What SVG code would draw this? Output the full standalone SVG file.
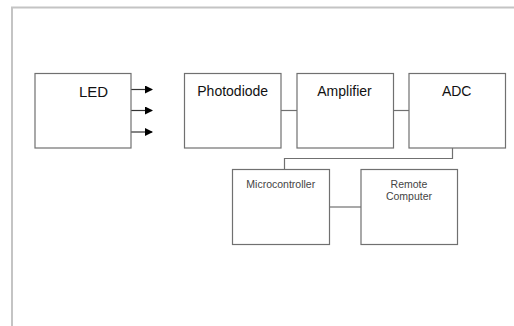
<svg xmlns="http://www.w3.org/2000/svg" width="514" height="326" viewBox="0 0 514 326">
<defs>
<style>
.box{fill:#fff;stroke:#707070;stroke-width:1.2}
.ln{fill:none;stroke:#707070;stroke-width:1.2}
.ar{fill:none;stroke:#333;stroke-width:1.2}
.t{font-family:"Liberation Sans",Arial,sans-serif;fill:#111;text-anchor:middle}
.s{font-family:"Liberation Sans",Arial,sans-serif;fill:#444;text-anchor:middle;font-size:10.5px}
</style>
<marker id="ah" markerWidth="8" markerHeight="8" refX="7" refY="4" orient="auto" markerUnits="userSpaceOnUse">
<path d="M0,0 L8,4 L0,8 Z" fill="#000"/>
</marker>
</defs>
<rect width="514" height="326" fill="#fff"/>
<path d="M12,326 V7.5 H514" fill="none" stroke="#c4c4c4" stroke-width="2"/>
<g id="connectors">
<line class="ar" x1="131" y1="89.5" x2="152" y2="89.5" marker-end="url(#ah)"/>
<line class="ar" x1="131" y1="110.5" x2="152" y2="110.5" marker-end="url(#ah)"/>
<line class="ar" x1="131" y1="132" x2="152" y2="132" marker-end="url(#ah)"/>
<line class="ln" x1="281" y1="110.5" x2="297" y2="110.5"/>
<line class="ln" x1="393" y1="110.5" x2="409" y2="110.5"/>
<path class="ln" d="M452.5,148 V158.5 H284.5 V169.5"/>
<line class="ln" x1="329" y1="207" x2="361" y2="207"/>
</g>
<g id="led"><rect class="box" x="35" y="73.5" width="96" height="74.5"/><text class="t" x="93.5" y="97" font-size="15">LED</text></g>
<g id="photodiode"><rect class="box" x="184.5" y="73.5" width="96.5" height="74.5"/><text class="t" x="232.7" y="96" font-size="14">Photodiode</text></g>
<g id="amplifier"><rect class="box" x="297" y="73.5" width="96.5" height="74.5"/><text class="t" x="344.5" y="96" font-size="14">Amplifier</text></g>
<g id="adc"><rect class="box" x="409" y="73.5" width="96.5" height="74.5"/><text class="t" x="456.7" y="96" font-size="14">ADC</text></g>
<g id="microcontroller"><rect class="box" x="232.5" y="169.5" width="97" height="75"/><text class="s" x="280.8" y="187.5">Microcontroller</text></g>
<g id="remote"><rect class="box" x="361" y="169.5" width="96.5" height="75"/><text class="s" x="409" y="187.5">Remote</text><text class="s" x="409" y="200.3">Computer</text></g>
</svg>
